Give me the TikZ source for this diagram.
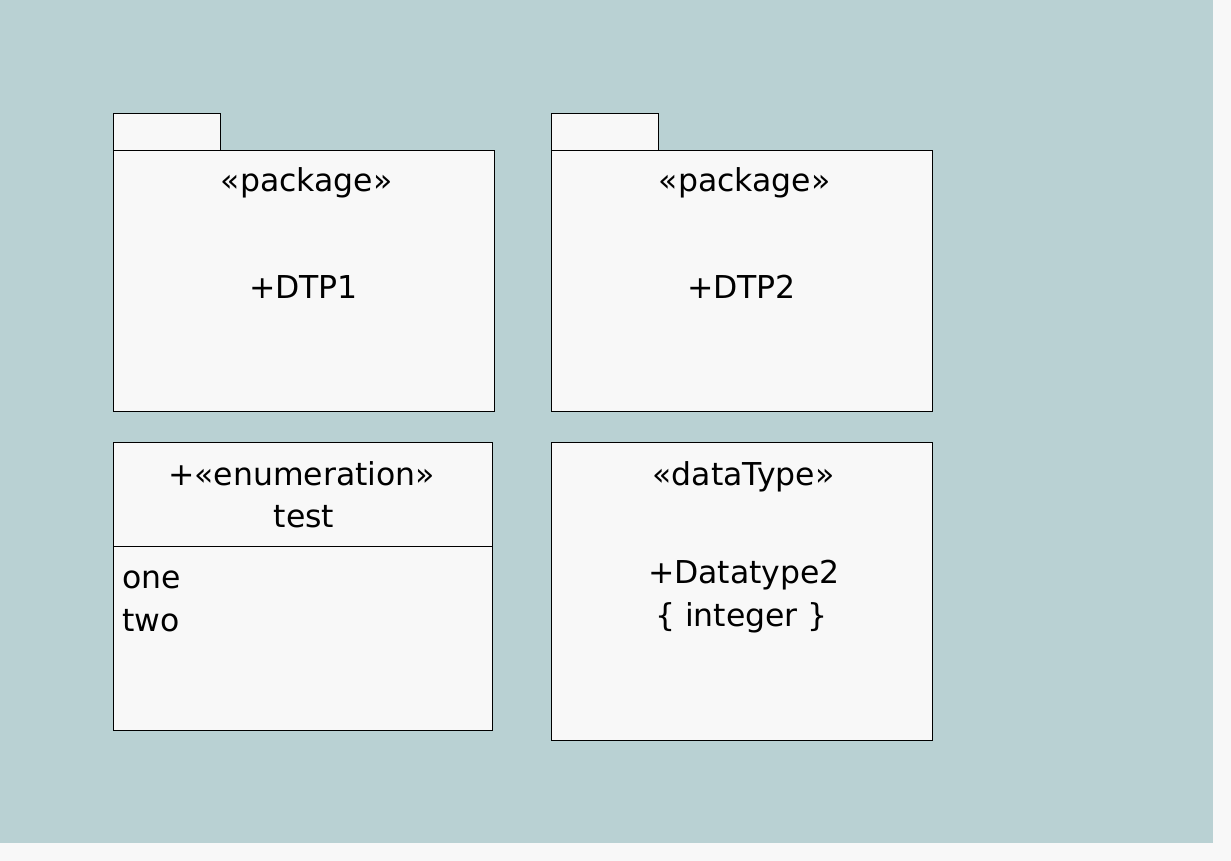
\documentclass[tikz,border=0pt]{standalone}
\usepackage{fontspec}
\setmainfont{DejaVu Sans}
\definecolor{bgteal}{HTML}{B9D1D3}
\definecolor{boxfill}{HTML}{F8F8F8}
\tikzset{
  umlbox/.style={draw=black, line width=0.8pt, fill=boxfill},
  lbl/.style={inner sep=0pt, anchor=base, font=\fontsize{31.5}{31.5}\selectfont},
  lbll/.style={inner sep=0pt, anchor=base west, font=\fontsize{31.5}{31.5}\selectfont}
}
\begin{document}
\begin{tikzpicture}[x=1pt,y=-1pt]
\useasboundingbox (0,0) rectangle (1231,861);
\fill[boxfill] (0,0) rectangle (1231,861);
\fill[bgteal] (0,0) rectangle (1213,843);
% package 1
\draw[umlbox] (113,113) rectangle (220,150);
\draw[umlbox] (113,150) rectangle (494,411);
\node[lbl] (p1s) at (306.5,192) {«package»};
\node[lbl] (p1n) at (303.5,298) {+DTP1};
% package 2
\draw[umlbox] (551,113) rectangle (658,150);
\draw[umlbox] (551,150) rectangle (932,411);
\node[lbl] (p2s) at (744.5,192) {«package»};
\node[lbl] (p2n) at (741.5,298) {+DTP2};
% enumeration
\draw[umlbox] (113,442) rectangle (492,730);
\draw[line width=0.8pt] (113,546) -- (492,546);
\node[lbl] (es) at (301.5,485) {+«enumeration»};
\node[lbl] (en) at (304,527) {test};
\node[lbll] (e1) at (122,588) {one};
\node[lbll] (e2) at (122,631) {two};
% datatype
\draw[umlbox] (551,442) rectangle (932,740);
\node[lbl] (ds) at (743.5,485) {«dataType»};
\node[lbl] (dn) at (744,583) {+Datatype2};
\node[lbl] (dt) at (741.5,626) {\{ integer \}};
\end{tikzpicture}
\end{document}
